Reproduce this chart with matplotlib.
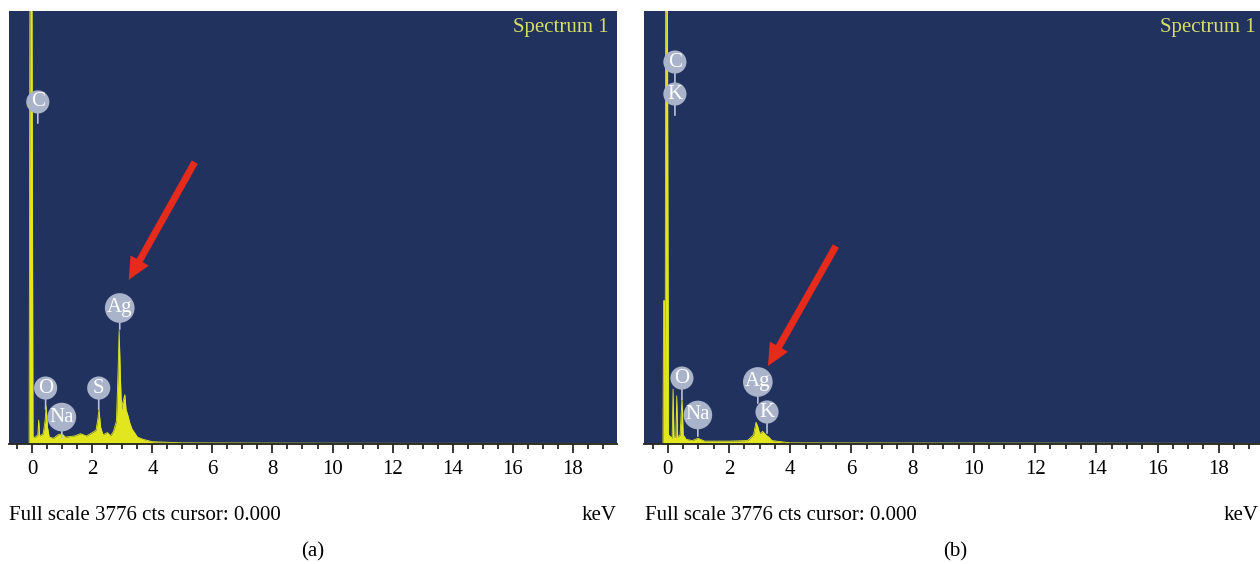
import matplotlib.pyplot as plt
from matplotlib.ticker import MultipleLocator

# EDS spectra: energy in keV, counts (full scale 3776)
full_scale = 3776

energy_a = [-0.78, -0.11, -0.08, -0.02, 0.02, 0.10, 0.18, 0.21, 0.24, 0.36, 0.42, 0.46,
            0.50, 0.56, 0.70, 0.85, 0.98, 1.10, 1.40, 1.60, 1.80, 2.00, 2.12, 2.18, 2.22,
            2.27, 2.35, 2.50, 2.60, 2.70, 2.80, 2.85, 2.89, 2.93, 2.97, 3.00, 3.05, 3.08,
            3.12, 3.18, 3.25, 3.32, 3.40, 3.50, 3.70, 4.00, 5.00, 8.00, 12.0, 19.5]
counts_a = [0, 0, 4500, 4500, 60, 60, 80, 210, 70, 90, 200, 330,
            150, 60, 50, 80, 90, 60, 70, 90, 70, 100, 120, 220, 300,
            150, 80, 100, 70, 110, 200, 600, 990, 600, 300, 350, 400, 430,
            300, 250, 180, 130, 100, 60, 40, 20, 10, 8, 6, 5]

energy_b = [-0.78, -0.16, -0.14, -0.11, -0.09, -0.07, -0.02, 0.02, 0.10, 0.14, 0.17, 0.20,
            0.26, 0.29, 0.32, 0.40, 0.46, 0.50, 0.60, 0.80, 0.98, 1.20, 2.00, 2.60, 2.80,
            2.88, 2.94, 3.00, 3.10, 3.20, 3.30, 3.40, 4.00, 19.5]
counts_b = [0, 0, 1250, 1250, 0, 4500, 4500, 80, 60, 50, 480, 60,
            60, 420, 60, 80, 400, 80, 40, 30, 50, 25, 25, 30, 80,
            190, 150, 90, 110, 80, 60, 30, 10, 5]

# element markers: name, keV, counts at the centre of the oval
labels_a = [('C', 0.18, 2983), ('O', 0.44, 488), ('Na', 0.98, 235),
            ('S', 2.21, 488), ('Ag', 2.91, 1186)]
labels_b = [('C', 0.23, 3331), ('K', 0.23, 3052), ('O', 0.46, 575),
            ('Na', 0.98, 253), ('Ag', 2.94, 541), ('K', 3.24, 279)]

# red arrows: (tail keV, tail counts, tip keV, tip counts)
arrow_a = (5.41, 2458, 3.21, 1431)
arrow_b = (5.49, 1726, 3.27, 680)

bg = '#22325f'
yellow = '#e2e61e'
serif = ['Liberation Serif', 'DejaVu Serif']


def draw_spectrum(ax, energy, counts, labels, arrow):
    """Draws one EDS panel: spectrum, element ovals and the red arrow."""
    ax.set_facecolor(bg)
    ax.fill_between(energy, counts, 0, color=yellow, lw=0)
    ax.plot(energy, counts, color=yellow, lw=0.6)

    for name, x, y in labels:
        # short pin under the oval
        ax.annotate('', xy=(x, y), xytext=(0, -24), textcoords='offset pixels',
                    arrowprops=dict(arrowstyle='-', color='#b7c0d4', lw=1.2))
        ax.text(x, y, name, ha='center', va='center', color='white',
                fontsize=15, family=serif,
                bbox=dict(boxstyle='circle,pad=0.1', fc='#a9b3c9', ec='none'))

    x0, y0, x1, y1 = arrow
    ax.annotate('', xy=(x1, y1), xytext=(x0, y0),
                arrowprops=dict(facecolor='#e62a1c', edgecolor='none',
                                width=5, headwidth=15, headlength=16, shrink=0))

    ax.text(0.986, 0.961, 'Spectrum 1', transform=ax.transAxes, ha='right',
            va='center', color='#d6de66', fontsize=15, family=serif)

    ax.set_xlim(-0.78, 19.48)
    ax.set_ylim(0, full_scale)
    ax.xaxis.set_major_locator(MultipleLocator(2))
    ax.xaxis.set_minor_locator(MultipleLocator(0.5))
    ax.tick_params(axis='x', which='major', direction='out', length=6.5, width=1.1,
                   pad=5, labelsize=15, colors='black')
    ax.tick_params(axis='x', which='minor', direction='out', length=3.5, width=1.1)
    for lab in ax.get_xticklabels():
        lab.set_family(serif)
    ax.set_yticks([])
    for side in ['left', 'right', 'top']:
        ax.spines[side].set_visible(False)
    ax.spines['bottom'].set_color('#222222')
    ax.spines['bottom'].set_linewidth(1.3)


fig = plt.figure(figsize=(12.6, 5.64), dpi=100, facecolor='white')
ax_a = fig.add_axes([9 / 1260, 120 / 564, 608 / 1260, 433 / 564])
ax_b = fig.add_axes([644 / 1260, 120 / 564, 620 / 1260, 433 / 564])

draw_spectrum(ax_a, energy_a, counts_a, labels_a, arrow_a)
draw_spectrum(ax_b, energy_b, counts_b, labels_b, arrow_b)

# captions under each panel
for left, right, mid, tag in [(9, 617, 313, '(a)'), (645, 1259, 955, '(b)')]:
    fig.text(left / 1260, 1 - 516 / 564, 'Full scale 3776 cts cursor: 0.000',
             ha='left', va='center', fontsize=15, family=serif)
    fig.text(right / 1260, 1 - 516 / 564, 'keV', ha='right', va='center',
             fontsize=15, family=serif)
    fig.text(mid / 1260, 1 - 552 / 564, tag, ha='center', va='center',
             fontsize=15, family=serif)

fig.savefig('out.png', dpi=100, facecolor='white')
